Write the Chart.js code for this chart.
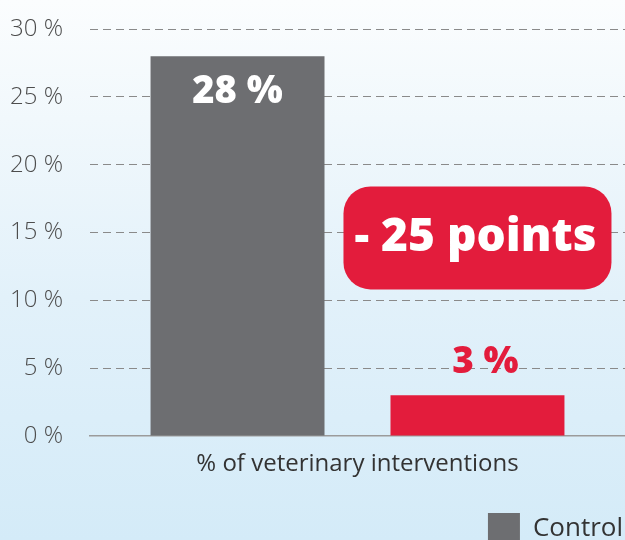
<!DOCTYPE html>
<html>
<head>
<meta charset="utf-8">
<script src="https://cdn.jsdelivr.net/npm/chart.js@4"></script>
<style>
  html, body { margin: 0; padding: 0; overflow: hidden; }
  body { width: 625px; height: 540px;
    background: linear-gradient(to bottom, #fbfdfe 0%, #f1f8fc 22%, #e2f1fa 55%, #d4ebf8 100%); }
  #wrap { position: relative; width: 625px; height: 555px; }
</style>
</head>
<body>
<div id="wrap"><canvas id="c"></canvas></div>
<script>
const categories = ['% of veterinary interventions'];
const seriesNames = ['Control', ''];
const controlValues = [28];
const treatedValues = [3];
const yTicks = [0, 5, 10, 15, 20, 25, 30];

const GRAY = '#6d6e71';
const RED = '#e31c3c';
const FONT = "'Open Sans', 'Liberation Sans', sans-serif";

function roundRect(ctx, x, y, w, h, r) {
  ctx.beginPath();
  ctx.moveTo(x + r, y);
  ctx.lineTo(x + w - r, y);
  ctx.arcTo(x + w, y, x + w, y + r, r);
  ctx.lineTo(x + w, y + h - r);
  ctx.arcTo(x + w, y + h, x + w - r, y + h, r);
  ctx.lineTo(x + r, y + h);
  ctx.arcTo(x, y + h, x, y + h - r, r);
  ctx.lineTo(x, y + r);
  ctx.arcTo(x, y, x + r, y, r);
  ctx.closePath();
}

const labelsPlugin = {
  id: 'valueLabels',
  afterDatasetsDraw(chart) {
    const ctx = chart.ctx;
    const yScale = chart.scales.y;
    ctx.save();
    ctx.textAlign = 'center';
    ctx.textBaseline = 'middle';
    const m0 = chart.getDatasetMeta(0).data[0];
    ctx.fillStyle = '#ffffff';
    ctx.font = "800 38px " + FONT;
    ctx.fillText(controlValues[0] + ' %', m0.x, m0.y + 36);
    const m1 = chart.getDatasetMeta(1).data[0];
    ctx.fillStyle = RED;
    ctx.font = "800 37px " + FONT;
    ctx.fillText(treatedValues[0] + ' %', m1.x + 8, m1.y - 33);
    const diff = controlValues[0] - treatedValues[0];
    const cx = m1.x;
    const cy = yScale.getPixelForValue(14.6);
    const w = 268, h = 103;
    ctx.fillStyle = RED;
    roundRect(ctx, cx - w / 2, cy - h / 2, w, h, 27);
    ctx.fill();
    ctx.fillStyle = '#ffffff';
    ctx.font = "800 46px " + FONT;
    ctx.fillText('- ' + diff + ' points', cx - 2, cy);
    ctx.restore();
  }
};

new Chart(document.getElementById('c'), {
  type: 'bar',
  data: {
    labels: categories,
    datasets: [
      { label: seriesNames[0], data: controlValues, backgroundColor: GRAY,
        barPercentage: 0.725, categoryPercentage: 0.897 },
      { label: seriesNames[1], data: treatedValues, backgroundColor: RED,
        barPercentage: 0.725, categoryPercentage: 0.897 }
    ]
  },
  options: {
    responsive: true,
    maintainAspectRatio: false,
    animation: false,
    layout: { padding: { top: 29, right: 0, left: 0, bottom: 0 } },
    plugins: {
      tooltip: { enabled: false },
      legend: {
        display: true,
        position: 'bottom',
        align: 'end',
        labels: {
          filter: (item) => item.datasetIndex === 0,
          boxWidth: 32,
          boxHeight: 32,
          padding: 2,
          color: '#333333',
          font: { family: FONT, size: 26, weight: '400' }
        }
      }
    },
    scales: {
      x: {
        grid: { display: false },
        border: { display: true, color: '#9b9b9b', width: 1.5 },
        ticks: { color: '#333333', padding: 6, font: { family: FONT, size: 24, weight: '400' } },
        afterFit: (s) => { s.height = 75; }
      },
      y: {
        min: 0, max: 30,
        afterBuildTicks: (s) => { s.ticks = yTicks.map(v => ({ value: v })); },
        grid: {
          drawTicks: false,
          color: (c) => c.tick && c.tick.value === 0 ? 'rgba(0,0,0,0)' : '#8a8a8a',
          lineWidth: 1
        },
        border: { display: false, dash: [8, 5] },
        ticks: {
          padding: 27,
          color: '#4d4d4d',
          font: { family: FONT, size: 24, weight: '300' },
          callback: (v) => v + ' %'
        },
        afterFit: (s) => { s.width = 90; s.paddingTop = 0; s.paddingBottom = 0; }
      }
    }
  },
  plugins: [labelsPlugin]
});
</script>
</body>
</html>
